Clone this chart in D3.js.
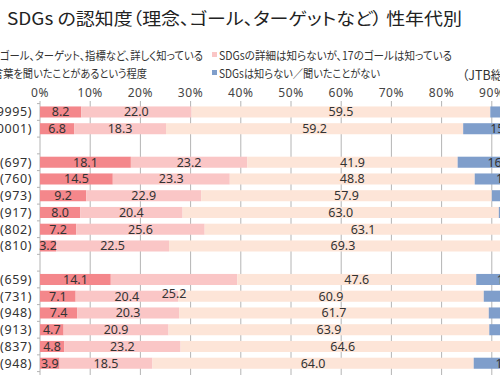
<!DOCTYPE html>
<html>
<head>
<meta charset="utf-8">
<script src="https://cdn.jsdelivr.net/npm/d3@7"></script>
<style>
  html, body { margin: 0; padding: 0; background: #fff; overflow: hidden; }
  svg { display: block; font-family: "Noto Sans CJK JP", "Noto Sans", sans-serif; font-feature-settings: "palt"; }
  .num { font-family: "Noto Sans", "DejaVu Sans", sans-serif; }
</style>
</head>
<body>
<svg id="chart" width="500" height="375"></svg>
<script>
// ---- data ----
const categories = ["(9995)", "(10001)", "", "(697)", "(760)", "(973)", "(917)", "(802)", "(810)", " ", "(659)", "(731)", "(948)", "(913)", "(837)", "(948) "];
const seriesNames = [
  "ゴール、ターゲット、指標など、詳しく知っている",
  "SDGsの詳細は知らないが、17のゴールは知っている",
  "言葉を聞いたことがあるという程度",
  "SDGsは知らない／聞いたことがない"
];
const detailed   = [8.2, 6.8, null, 18.1, 14.5, 9.2, 8.0, 7.2, 3.2, null, 14.1, 7.1, 7.4, 4.7, 4.8, 3.9];
const goalsKnown = [22.0, 18.3, null, 23.2, 23.3, 22.9, 20.4, 25.6, 22.5, null, 25.2, 20.4, 20.3, 20.9, 23.2, 18.5];
const heardOnly  = [59.5, 59.2, null, 41.9, 48.8, 57.9, 63.0, 63.1, 69.3, null, 47.6, 60.9, 61.7, 63.9, 64.6, 64.0];
const unknown    = [10.3, 15.7, null, 16.8, 13.4, 10.0, 8.6, 4.1, 5.0, null, 13.1, 11.6, 10.6, 10.5, 7.4, 13.6];
const tickValues = [0, 10, 20, 30, 40, 50, 60, 70, 80, 90, 100];
const tickLabels = ["0%", "10%", "20%", "30%", "40%", "50%", "60%", "70%", "80%", "90%", "100%"];
const colors = ["#f4878b", "#fac6c6", "#fde5d8", "#7f9ecb"];
const titleText = "SDGs の認知度（理念、ゴール、ターゲットなど） 性年代別";
const sourceText = "（JTB総合研究所）";
// one label in the original is drawn lower than its bar
const labelNudges = [{ row: 10, series: 1, shift: 0.83 }];

// ---- build ----
const svg = d3.select("#chart");
const x = d3.scaleLinear().domain([0, 100]).range([40, 542]);
const y = d3.scaleBand().domain(d3.range(categories.length))
  .range([103.6, 371.6]).paddingInner(0.34).paddingOuter(0.17);

const allSeries = [detailed, goalsKnown, heardOnly, unknown];
const rows = categories.map((c, i) => {
  let acc = 0;
  const segs = allSeries.map((s, k) => {
    const v = s[i];
    const seg = { i, k, v, x0: acc, x1: acc + (v || 0) };
    acc += (v || 0);
    return seg;
  });
  return { i, label: c, segs, empty: detailed[i] == null };
});

// title
svg.append("text").attr("x", 7).attr("y", 25)
  .attr("font-size", 17).attr("fill", "#222")
  .attr("textLength", 455).attr("lengthAdjust", "spacingAndGlyphs")
  .text(titleText);

// legend
const legendItems = [
  { s: 0, tx: 0, ty: 60, len: 203, marker: false },
  { s: 1, tx: 219, ty: 60, len: 233, marker: true },
  { s: 2, tx: -7, ty: 78, len: 154, marker: false },
  { s: 3, tx: 219, ty: 78, len: 161, marker: true }
];
const lg = svg.append("g");
legendItems.forEach(d => {
  if (d.marker) {
    lg.append("rect").attr("x", d.tx - 7).attr("y", d.ty - 8).attr("width", 5).attr("height", 5)
      .attr("fill", colors[d.s]);
  }
  lg.append("text").attr("x", d.tx).attr("y", d.ty)
    .attr("font-size", 11.5).attr("fill", "#333")
    .attr("textLength", d.len).attr("lengthAdjust", "spacingAndGlyphs")
    .text(seriesNames[d.s]);
});
svg.append("text").attr("x", 462).attr("y", 80)
  .attr("font-size", 12.5).attr("fill", "#333").text(sourceText);

// x axis (top) labels
svg.append("g").selectAll("text").data(tickValues).join("text")
  .attr("class", "num")
  .attr("x", d => x(d)).attr("y", 97)
  .attr("text-anchor", "middle").attr("font-size", 12).attr("fill", "#444")
  .attr("letter-spacing", 0.6)
  .text((d, i) => tickLabels[i]);

// gridlines
svg.append("g").selectAll("line").data(tickValues).join("line")
  .attr("x1", d => x(d)).attr("x2", d => x(d))
  .attr("y1", 101).attr("y2", 375)
  .attr("stroke", "#b4b4b4").attr("stroke-width", 1);

// category ticks on the 0% axis
svg.append("g").selectAll("line").data(d3.range(categories.length + 1)).join("line")
  .attr("x1", x(0) - 3).attr("x2", x(0))
  .attr("y1", i => 103.6 + i * y.step()).attr("y2", i => 103.6 + i * y.step())
  .attr("stroke", "#b4b4b4");

// bars
const barG = svg.append("g");
rows.filter(r => !r.empty).forEach(r => {
  barG.selectAll(null).data(r.segs).join("rect")
    .attr("x", d => x(d.x0)).attr("width", d => x(d.x1) - x(d.x0))
    .attr("y", y(r.i)).attr("height", y.bandwidth())
    .attr("fill", d => colors[d.k]);
});

// value labels
const labG = svg.append("g");
rows.filter(r => !r.empty).forEach(r => {
  labG.selectAll(null).data(r.segs).join("text")
    .attr("class", "num")
    .attr("x", d => x((d.x0 + d.x1) / 2))
    .attr("y", d => {
      const n = labelNudges.find(q => q.row === d.i && q.series === d.k);
      return y(r.i) + y.bandwidth() / 2 + (n ? n.shift * y.step() : 0);
    })
    .attr("dy", "0.36em")
    .attr("text-anchor", "middle").attr("font-size", 12.5).attr("fill", "#333")
    .text(d => d.v.toFixed(1));
});

// category labels
svg.append("g").selectAll("text").data(rows.filter(r => !r.empty)).join("text")
  .attr("class", "num")
  .attr("x", 32).attr("y", d => y(d.i) + y.bandwidth() / 2).attr("dy", "0.36em")
  .attr("text-anchor", "end").attr("font-size", 12.5).attr("fill", "#333")
  .attr("letter-spacing", 0.6)
  .text(d => d.label.trim());
</script>
</body>
</html>
